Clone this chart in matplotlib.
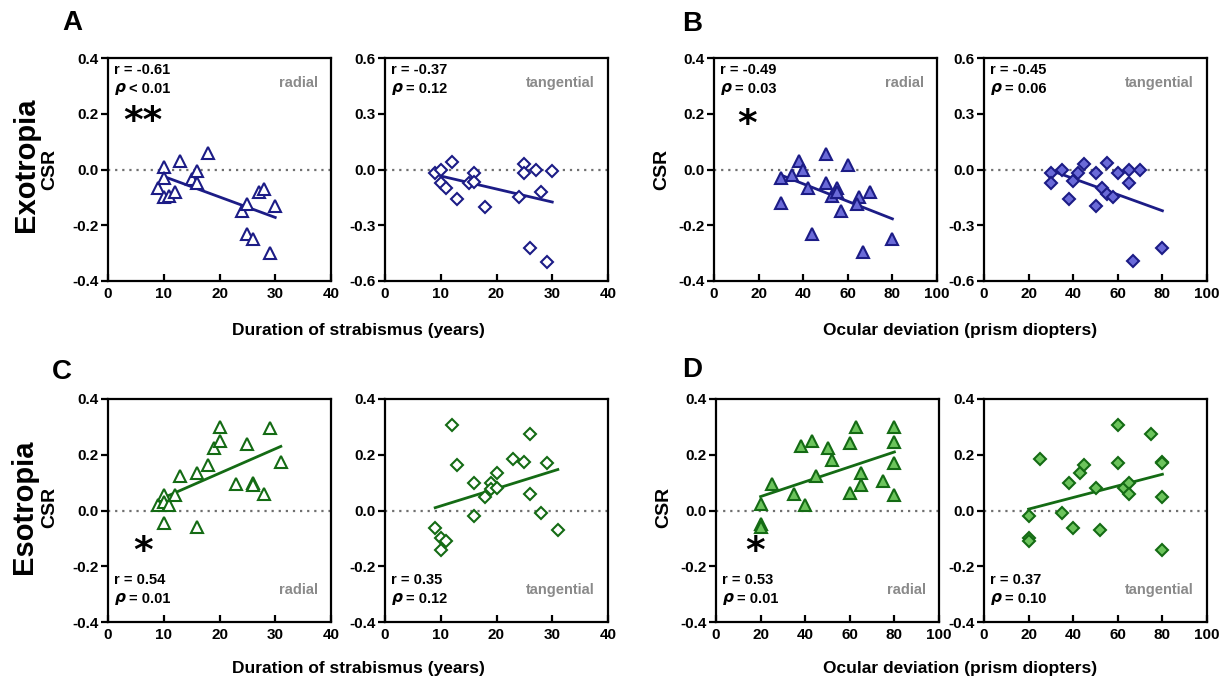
import matplotlib
matplotlib.use("Agg")
import matplotlib.pyplot as plt

plt.rcParams['font.family'] = ['Liberation Sans', 'DejaVu Sans']
plt.rcParams['font.weight'] = 'bold'

# --- data ---
# A: exotropia vs duration of strabismus
a_rad_x = [10, 13, 18, 9, 10, 10, 11, 12, 15, 16, 16, 24, 25, 25, 26, 27, 28, 30, 29]
a_rad_y = [0.01, 0.03, 0.06, -0.065, -0.03, -0.10, -0.095, -0.08, -0.035, -0.005, -0.05,
           -0.15, -0.125, -0.23, -0.25, -0.08, -0.07, -0.13, -0.30]
a_rad_fit_x = [10, 30]
a_rad_fit_y = [-0.025, -0.172]

a_tan_x = [9, 10, 10, 11, 12, 13, 15, 16, 16, 18, 24, 25, 25, 27, 28, 30, 26, 29]
a_tan_y = [-0.02, 0.0, -0.07, -0.10, 0.04, -0.16, -0.075, -0.02, -0.065, -0.20, -0.15,
           0.03, -0.02, 0.0, -0.12, -0.01, -0.42, -0.50]
a_tan_fit_x = [10, 30]
a_tan_fit_y = [-0.035, -0.175]

# B: exotropia vs ocular deviation
b_rad_x = [30, 30, 35, 38, 40, 42, 44, 50, 50, 53, 55, 55, 57, 60, 65, 64, 70, 67, 80]
b_rad_y = [-0.03, -0.12, -0.02, 0.03, 0.0, -0.065, -0.23, 0.055, -0.05, -0.095, -0.065,
           -0.08, -0.15, 0.015, -0.10, -0.125, -0.08, -0.295, -0.25]
b_rad_fit_x = [30, 80]
b_rad_fit_y = [-0.02, -0.177]

b_tan_x = [30, 30, 35, 38, 40, 42, 45, 50, 50, 53, 55, 55, 58, 60, 65, 65, 70, 67, 80]
b_tan_y = [-0.018, -0.075, 0.0, -0.16, -0.063, -0.02, 0.03, -0.02, -0.195, -0.10, 0.035,
           -0.13, -0.15, -0.02, -0.005, -0.075, 0.0, -0.495, -0.42]
b_tan_fit_x = [30, 80]
b_tan_fit_y = [-0.005, -0.222]

# C: esotropia vs duration of strabismus
c_rad_x = [9, 10, 10, 11, 12, 10, 13, 16, 16, 18, 19, 20, 20, 23, 25, 26, 26, 28, 29, 31]
c_rad_y = [0.018, 0.054, 0.03, 0.02, 0.055, -0.045, 0.125, 0.135, -0.06, 0.165, 0.225,
           0.30, 0.25, 0.095, 0.24, 0.10, 0.09, 0.06, 0.295, 0.175]
c_rad_fit_x = [10, 31]
c_rad_fit_y = [0.046, 0.23]

c_tan_x = [9, 10, 10, 11, 12, 13, 16, 16, 18, 19, 19, 20, 20, 23, 25, 26, 26, 28, 29, 31]
c_tan_y = [-0.063, -0.10, -0.14, -0.11, 0.307, 0.163, 0.099, -0.018, 0.048, 0.099, 0.076,
           0.135, 0.082, 0.183, 0.175, 0.273, 0.06, -0.008, 0.17, -0.069]
c_tan_fit_x = [9, 31]
c_tan_fit_y = [0.01, 0.147]

# D: esotropia vs ocular deviation
d_rad_x = [20, 20, 20, 25, 35, 38, 40, 43, 45, 50, 52, 60, 60, 63, 65, 65, 75, 80, 80, 80, 80]
d_rad_y = [0.024, -0.05, -0.058, 0.096, 0.06, 0.23, 0.018, 0.25, 0.125, 0.226, 0.18,
           0.243, 0.063, 0.30, 0.135, 0.09, 0.105, 0.30, 0.245, 0.17, 0.055]
d_rad_fit_x = [20, 80]
d_rad_fit_y = [0.05, 0.21]

d_tan_x = [20, 20, 20, 25, 35, 38, 40, 43, 45, 50, 52, 60, 60, 63, 65, 65, 75, 80, 80, 80, 80]
d_tan_y = [-0.018, -0.10, -0.11, 0.183, -0.008, 0.099, -0.063, 0.133, 0.163, 0.082, -0.069,
           0.307, 0.172, 0.082, 0.099, 0.058, 0.273, 0.175, 0.17, 0.048, -0.141]
d_tan_fit_x = [20, 80]
d_tan_fit_y = [0.005, 0.13]

stats = {
    'a_rad': ('r = -0.61', '< 0.01'), 'a_tan': ('r = -0.37', '= 0.12'),
    'b_rad': ('r = -0.49', '= 0.03'), 'b_tan': ('r = -0.45', '= 0.06'),
    'c_rad': ('r = 0.54', '= 0.01'), 'c_tan': ('r = 0.35', '= 0.12'),
    'd_rad': ('r = 0.53', '= 0.01'), 'd_tan': ('r = 0.37', '= 0.10'),
}

ticks_pm4 = [-0.4, -0.2, 0.0, 0.2, 0.4]
ticks_pm6 = [-0.6, -0.3, 0.0, 0.3, 0.6]
dur_ticks = [0, 10, 20, 30, 40]
dev_ticks = [0, 20, 40, 60, 80, 100]

BLUE = '#1c1c86'
BLUE_FILL = '#6a6ad8'
GREEN = '#146b14'
GREEN_FILL = '#6cc45c'

W, H = 1228, 681
fig = plt.figure(figsize=(W / 100, H / 100), dpi=100)


def make_ax(left, top):
    # pixel box -> figure fraction
    return fig.add_axes([left / W, 1 - (top + 223) / H, 223 / W, 223 / H])


def panel(ax, x, y, fx, fy, marker, edge, face, xt, yt, key, kind, bottom_text):
    ax.axhline(0, color='#707070', ls=(0, (1, 2.2)), lw=1.6, zorder=1)
    ax.plot(fx, fy, color=edge, lw=2.0, zorder=2)
    ax.plot(x, y, ls='none', marker=marker, ms=8 if marker == '^' else 6.6,
            mfc=face, mec=edge, mew=1.5, zorder=3)
    ax.set_xlim(xt[0], xt[-1])
    ax.set_ylim(yt[0], yt[-1])
    ax.set_xticks(xt)
    ax.set_yticks(yt)
    ax.set_yticklabels([f'{v:.1f}' for v in yt])
    ax.tick_params(axis='x', direction='in', length=5, width=1.6, pad=4, labelsize=11)
    ax.tick_params(axis='y', direction='out', length=5, width=1.6, pad=1.5, labelsize=11)
    for s in ax.spines.values():
        s.set_linewidth(1.6)
    r_txt, p_txt = stats[key]
    if bottom_text:
        y_r, y_p, y_k = 0.19, 0.105, 0.145
    else:
        y_r, y_p, y_k = 0.945, 0.86, 0.89
    ax.text(0.025, y_r, r_txt, transform=ax.transAxes, fontsize=10.5, va='center')
    ax.text(0.025, y_p, r'$\rho$', transform=ax.transAxes, fontsize=11, va='center')
    ax.text(0.092, y_p, p_txt, transform=ax.transAxes, fontsize=10.5, va='center')
    ax.text(0.94, y_k, kind, transform=ax.transAxes, fontsize=10.5, color='#8a8a8a',
            ha='right', va='center')


top1, top2 = 58, 399
ax_a1 = make_ax(108, top1)
ax_a2 = make_ax(385, top1)
ax_b1 = make_ax(714, top1)
ax_b2 = make_ax(984, top1)
ax_c1 = make_ax(108, top2)
ax_c2 = make_ax(385, top2)
ax_d1 = make_ax(716, top2)
ax_d2 = make_ax(984, top2)

panel(ax_a1, a_rad_x, a_rad_y, a_rad_fit_x, a_rad_fit_y, '^', BLUE, 'white',
      dur_ticks, ticks_pm4, 'a_rad', 'radial', False)
panel(ax_a2, a_tan_x, a_tan_y, a_tan_fit_x, a_tan_fit_y, 'D', BLUE, 'white',
      dur_ticks, ticks_pm6, 'a_tan', 'tangential', False)
panel(ax_b1, b_rad_x, b_rad_y, b_rad_fit_x, b_rad_fit_y, '^', BLUE, BLUE_FILL,
      dev_ticks, ticks_pm4, 'b_rad', 'radial', False)
panel(ax_b2, b_tan_x, b_tan_y, b_tan_fit_x, b_tan_fit_y, 'D', BLUE, BLUE_FILL,
      dev_ticks, ticks_pm6, 'b_tan', 'tangential', False)
panel(ax_c1, c_rad_x, c_rad_y, c_rad_fit_x, c_rad_fit_y, '^', GREEN, 'white',
      dur_ticks, ticks_pm4, 'c_rad', 'radial', True)
panel(ax_c2, c_tan_x, c_tan_y, c_tan_fit_x, c_tan_fit_y, 'D', GREEN, 'white',
      dur_ticks, ticks_pm4, 'c_tan', 'tangential', True)
panel(ax_d1, d_rad_x, d_rad_y, d_rad_fit_x, d_rad_fit_y, '^', GREEN, GREEN_FILL,
      dev_ticks, ticks_pm4, 'd_rad', 'radial', True)
panel(ax_d2, d_tan_x, d_tan_y, d_tan_fit_x, d_tan_fit_y, 'D', GREEN, GREEN_FILL,
      dev_ticks, ticks_pm4, 'd_tan', 'tangential', True)

# significance stars
ax_a1.text(6.2, 0.17, '**', fontsize=27, ha='center', va='center', family='DejaVu Sans')
ax_b1.text(15, 0.16, '*', fontsize=27, ha='center', va='center', family='DejaVu Sans')
ax_c1.text(6.2, -0.15, '*', fontsize=27, ha='center', va='center', family='DejaVu Sans')
ax_d1.text(17.5, -0.15, '*', fontsize=27, ha='center', va='center', family='DejaVu Sans')

# panel letters
for lbl, px, py in [('A', 72, 23), ('B', 692, 24), ('C', 62, 372), ('D', 692, 370)]:
    fig.text(px / W, 1 - py / H, lbl, fontsize=20, ha='center', va='center')

# row / y labels
fig.text(26 / W, 1 - 165 / H, 'Exotropia', fontsize=21, rotation=90, ha='center', va='center')
fig.text(50 / W, 1 - 169 / H, 'CSR', fontsize=14, rotation=90, ha='center', va='center')
fig.text(24 / W, 1 - 507 / H, 'Esotropia', fontsize=21, rotation=90, ha='center', va='center')
fig.text(50 / W, 1 - 507 / H, 'CSR', fontsize=14, rotation=90, ha='center', va='center')
fig.text(662 / W, 1 - 169 / H, 'CSR', fontsize=14, rotation=90, ha='center', va='center')
fig.text(664 / W, 1 - 507 / H, 'CSR', fontsize=14, rotation=90, ha='center', va='center')

# x labels
for yy in (330, 668):
    fig.text(358 / W, 1 - yy / H, 'Duration of strabismus (years)', fontsize=12.5,
             ha='center', va='center')
    fig.text(960 / W, 1 - yy / H, 'Ocular deviation (prism diopters)', fontsize=12.5,
             ha='center', va='center')

fig.savefig('out.png', dpi=100)
